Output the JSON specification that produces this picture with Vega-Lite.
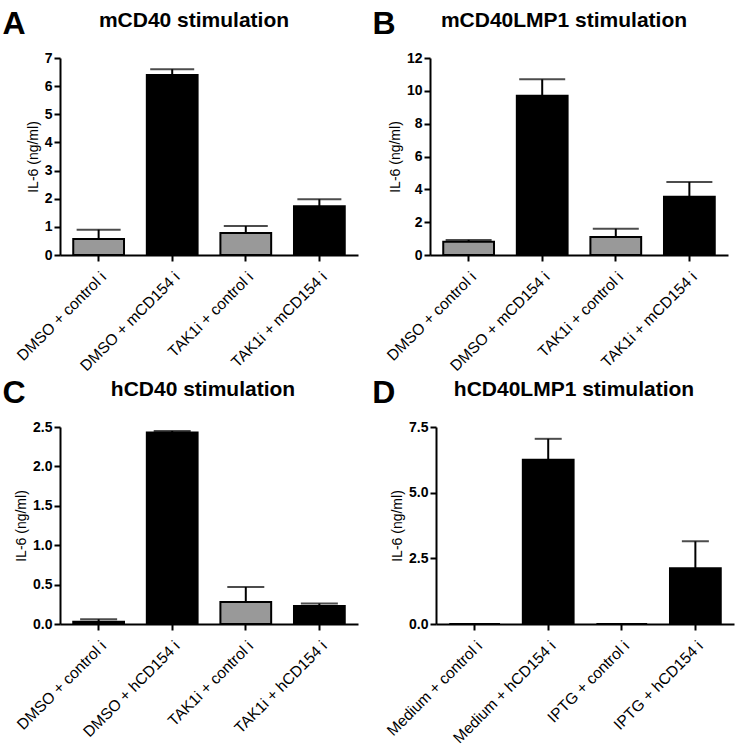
{
  "$schema": "https://vega.github.io/schema/vega-lite/v6.json",
  "padding": {"left": 2, "top": 8, "right": 2, "bottom": 0},
  "spacing": 2,
  "config": {
    "view": {"stroke": null},
    "font": "Liberation Sans",
    "title": {"font": "Liberation Sans", "fontSize": 21, "fontWeight": "bold", "color": "black"},
    "axis": {"domainColor": "black", "domainWidth": 2, "tickColor": "black", "tickWidth": 2, "tickSize": 6, "labelColor": "black", "titleColor": "black", "grid": false, "labelFont": "Liberation Sans", "titleFont": "Liberation Sans", "labelOverlap": false},
    "axisY": {"labelFontSize": 14, "labelFontWeight": "bold", "titleFontSize": 14, "titleFontWeight": "normal", "labelPadding": 2, "titlePadding": 4},
    "axisX": {"labelFontSize": 15.5, "labelAngle": -45, "labelPadding": 8, "title": null},
    "concat": {"spacing": 14}
  },
  "datasets": {
    "A": [
      {"cond": "DMSO + control i", "kind": "control", "mean": 0.57, "upper": 0.9},
      {"cond": "DMSO + mCD154 i", "kind": "CD154", "mean": 6.4, "upper": 6.6},
      {"cond": "TAK1i + control i", "kind": "control", "mean": 0.78, "upper": 1.03},
      {"cond": "TAK1i + mCD154 i", "kind": "CD154", "mean": 1.73, "upper": 1.98}
    ],
    "B": [
      {"cond": "DMSO + control i", "kind": "control", "mean": 0.8, "upper": 0.92},
      {"cond": "DMSO + mCD154 i", "kind": "CD154", "mean": 9.7, "upper": 10.7},
      {"cond": "TAK1i + control i", "kind": "control", "mean": 1.1, "upper": 1.6},
      {"cond": "TAK1i + mCD154 i", "kind": "CD154", "mean": 3.55, "upper": 4.45}
    ],
    "C": [
      {"cond": "DMSO + control i", "kind": "CD154", "mean": 0.03, "upper": 0.06},
      {"cond": "DMSO + hCD154 i", "kind": "CD154", "mean": 2.43, "upper": 2.45},
      {"cond": "TAK1i + control i", "kind": "control", "mean": 0.28, "upper": 0.47},
      {"cond": "TAK1i + hCD154 i", "kind": "CD154", "mean": 0.23, "upper": 0.26}
    ],
    "D": [
      {"cond": "Medium + control i", "kind": "CD154", "mean": 0, "upper": 0},
      {"cond": "Medium + hCD154 i", "kind": "CD154", "mean": 6.25, "upper": 7.05},
      {"cond": "IPTG + control i", "kind": "CD154", "mean": 0, "upper": 0},
      {"cond": "IPTG + hCD154 i", "kind": "CD154", "mean": 2.12, "upper": 3.15}
    ]
  },
  "vconcat": [
    {"hconcat": [
      {
        "title": {"text": "A", "anchor": "start", "fontSize": 32, "offset": -31, "dx": -12},
        "vconcat": [{
          "title": {"text": "mCD40 stimulation", "offset": 20, "dx": -15},
          "width": 298, "height": 197,
          "data": {"name": "A"},
          "encoding": {"x": {"field": "cond", "type": "nominal", "sort": null, "scale": {"paddingInner": 0.31, "paddingOuter": 0.18}}},
          "layer": [
            {"mark": {"type": "bar", "stroke": "black", "strokeWidth": 2},
             "encoding": {"y": {"field": "mean", "type": "quantitative", "title": "IL-6 (ng/ml)", "scale": {"domain": [0, 7]}, "axis": {"values": [0, 1, 2, 3, 4, 5, 6, 7]}},
                          "color": {"field": "kind", "type": "nominal", "scale": {"domain": ["control", "CD154"], "range": ["#999999", "#000000"]}, "legend": null}}},
            {"mark": {"type": "rule", "strokeWidth": 2, "color": "black"},
             "encoding": {"y": {"field": "mean", "type": "quantitative", "title": "IL-6 (ng/ml)", "scale": {"domain": [0, 7]}, "axis": {"values": [0, 1, 2, 3, 4, 5, 6, 7]}}, "y2": {"field": "upper"}}},
            {"mark": {"type": "tick", "thickness": 2, "size": 44, "color": "black"},
             "encoding": {"y": {"field": "upper", "type": "quantitative", "title": "IL-6 (ng/ml)", "scale": {"domain": [0, 7]}, "axis": {"values": [0, 1, 2, 3, 4, 5, 6, 7]}}}}
          ]
        }]
      },
      {
        "title": {"text": "B", "anchor": "start", "fontSize": 32, "offset": -31, "dx": -12},
        "vconcat": [{
          "title": {"text": "mCD40LMP1 stimulation", "offset": 20, "dx": -15},
          "width": 298, "height": 197,
          "data": {"name": "B"},
          "encoding": {"x": {"field": "cond", "type": "nominal", "sort": null, "scale": {"paddingInner": 0.31, "paddingOuter": 0.18}}},
          "layer": [
            {"mark": {"type": "bar", "stroke": "black", "strokeWidth": 2},
             "encoding": {"y": {"field": "mean", "type": "quantitative", "title": "IL-6 (ng/ml)", "scale": {"domain": [0, 12]}, "axis": {"values": [0, 2, 4, 6, 8, 10, 12]}},
                          "color": {"field": "kind", "type": "nominal", "scale": {"domain": ["control", "CD154"], "range": ["#999999", "#000000"]}, "legend": null}}},
            {"mark": {"type": "rule", "strokeWidth": 2, "color": "black"},
             "encoding": {"y": {"field": "mean", "type": "quantitative", "title": "IL-6 (ng/ml)", "scale": {"domain": [0, 12]}, "axis": {"values": [0, 2, 4, 6, 8, 10, 12]}}, "y2": {"field": "upper"}}},
            {"mark": {"type": "tick", "thickness": 2, "size": 46, "color": "black"},
             "encoding": {"y": {"field": "upper", "type": "quantitative", "title": "IL-6 (ng/ml)", "scale": {"domain": [0, 12]}, "axis": {"values": [0, 2, 4, 6, 8, 10, 12]}}}}
          ]
        }]
      }
    ]},
    {"hconcat": [
      {
        "title": {"text": "C", "anchor": "start", "fontSize": 32, "offset": -31, "dx": -12},
        "vconcat": [{
          "title": {"text": "hCD40 stimulation", "offset": 20, "dx": -6},
          "width": 298, "height": 197,
          "data": {"name": "C"},
          "encoding": {"x": {"field": "cond", "type": "nominal", "sort": null, "scale": {"paddingInner": 0.31, "paddingOuter": 0.18}}},
          "layer": [
            {"mark": {"type": "bar", "stroke": "black", "strokeWidth": 2},
             "encoding": {"y": {"field": "mean", "type": "quantitative", "title": "IL-6 (ng/ml)", "scale": {"domain": [0, 2.5]}, "axis": {"values": [0, 0.5, 1, 1.5, 2, 2.5], "format": ".1f"}},
                          "color": {"field": "kind", "type": "nominal", "scale": {"domain": ["control", "CD154"], "range": ["#999999", "#000000"]}, "legend": null}}},
            {"mark": {"type": "rule", "strokeWidth": 2, "color": "black"},
             "encoding": {"y": {"field": "mean", "type": "quantitative", "title": "IL-6 (ng/ml)", "scale": {"domain": [0, 2.5]}, "axis": {"values": [0, 0.5, 1, 1.5, 2, 2.5], "format": ".1f"}}, "y2": {"field": "upper"}}},
            {"mark": {"type": "tick", "thickness": 2, "size": 37, "color": "black"},
             "encoding": {"y": {"field": "upper", "type": "quantitative", "title": "IL-6 (ng/ml)", "scale": {"domain": [0, 2.5]}, "axis": {"values": [0, 0.5, 1, 1.5, 2, 2.5], "format": ".1f"}}}}
          ]
        }]
      },
      {
        "title": {"text": "D", "anchor": "start", "fontSize": 32, "offset": -31, "dx": -12},
        "vconcat": [{
          "title": {"text": "hCD40LMP1 stimulation", "offset": 20, "dx": -11},
          "width": 298, "height": 197,
          "data": {"name": "D"},
          "encoding": {"x": {"field": "cond", "type": "nominal", "sort": null, "scale": {"paddingInner": 0.31, "paddingOuter": 0.18}}},
          "layer": [
            {"mark": {"type": "bar", "stroke": "black", "strokeWidth": 2},
             "encoding": {"y": {"field": "mean", "type": "quantitative", "title": "IL-6 (ng/ml)", "scale": {"domain": [0, 7.5]}, "axis": {"values": [0, 2.5, 5, 7.5], "format": ".1f"}},
                          "color": {"field": "kind", "type": "nominal", "scale": {"domain": ["control", "CD154"], "range": ["#999999", "#000000"]}, "legend": null}}},
            {"mark": {"type": "rule", "strokeWidth": 2, "color": "black"},
             "encoding": {"y": {"field": "mean", "type": "quantitative", "title": "IL-6 (ng/ml)", "scale": {"domain": [0, 7.5]}, "axis": {"values": [0, 2.5, 5, 7.5], "format": ".1f"}}, "y2": {"field": "upper"}}},
            {"mark": {"type": "tick", "thickness": 2, "size": 27, "color": "black"},
             "encoding": {"y": {"field": "upper", "type": "quantitative", "title": "IL-6 (ng/ml)", "scale": {"domain": [0, 7.5]}, "axis": {"values": [0, 2.5, 5, 7.5], "format": ".1f"}}}}
          ]
        }]
      }
    ]}
  ]
}
